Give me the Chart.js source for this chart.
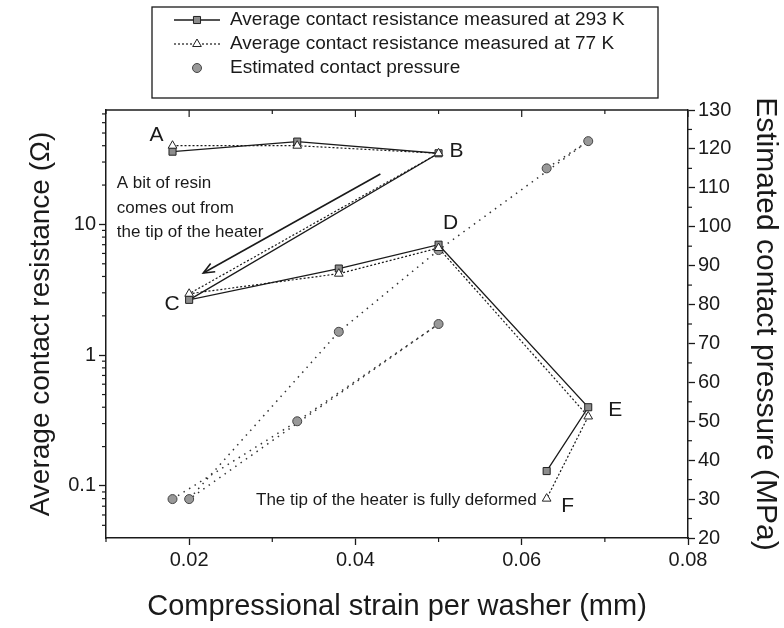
<!DOCTYPE html>
<html><head><meta charset="utf-8">
<script src="https://cdn.jsdelivr.net/npm/chart.js@4"></script>
<style>html,body{margin:0;padding:0;background:#fff;}canvas{display:block;}</style>
</head><body>
<canvas id="c" width="784" height="628"></canvas>
<script>
const strain = [0.018, 0.033, 0.05, 0.02, 0.038, 0.05, 0.068, 0.063];
const res293K = [36, 43, 35, 2.65, 4.6, 7.0, 0.40, 0.13];
const res77K = [40, 40, 35, 2.95, 4.2, 6.6, 0.34, 0.08];
const pressureMPa = [30, 50, 75, 30, 73, 94, 122, 115];
const xTickValues = [0.02, 0.04, 0.06, 0.08];
const xMinorValues = [0.01, 0.03, 0.05, 0.07];
const resTickValues = [0.1, 1, 10];
const resMinorValues = [0.05,0.06,0.07,0.08,0.09,0.2,0.3,0.4,0.5,0.6,0.7,0.8,0.9,2,3,4,5,6,7,8,9,20,30,40,50,60,70];
const pressureTickValues = [20,30,40,50,60,70,80,90,100,110,120,130];
const pressureMinorValues = [25,35,45,55,65,75,85,95,105,115,125];
const legendLabels = ['Average contact resistance measured at 293 K','Average contact resistance measured at 77 K','Estimated contact pressure'];
const pointLabels = [
  {text:'A', series:0, index:0, dx:-16, dy:-16},
  {text:'B', series:1, index:2, dx:18, dy:-2},
  {text:'C', series:0, index:3, dx:-17, dy:4},
  {text:'D', series:0, index:5, dx:12, dy:-21},
  {text:'E', series:0, index:6, dx:27, dy:3},
  {text:'F', series:1, index:7, dx:21, dy:8}
];
const noteResin = ['A bit of resin','comes out from','the tip of the heater'];
const noteDeformed = 'The tip of the heater is fully deformed';

const FONT = '"Liberation Sans", Arial, Helvetica, sans-serif';
const INK = '#1a1a1a';

const annot = {
  id:'annot',
  afterDraw(chart){
    const ctx = chart.ctx;
    const xs = chart.scales.x, ys = chart.scales.y, y2 = chart.scales.y2;
    const ca = chart.chartArea;
    ctx.save();
    ctx.strokeStyle = INK; ctx.fillStyle = INK;
    ctx.lineWidth=1.5;
    ctx.beginPath(); ctx.moveTo(ca.left, ca.top); ctx.lineTo(ca.right, ca.top); ctx.stroke();
    ctx.lineWidth = 1.2;
    xTickValues.forEach(v=>{const px=xs.getPixelForValue(v); ctx.beginPath(); ctx.moveTo(px,ca.top); ctx.lineTo(px,ca.top+7); ctx.stroke();});
    xMinorValues.forEach(v=>{const px=xs.getPixelForValue(v); ctx.beginPath(); ctx.moveTo(px,ca.top); ctx.lineTo(px,ca.top+4); ctx.stroke();
      ctx.beginPath(); ctx.moveTo(px,ca.bottom); ctx.lineTo(px,ca.bottom+4); ctx.stroke();});
    resMinorValues.forEach(v=>{const py=ys.getPixelForValue(v); ctx.beginPath(); ctx.moveTo(ca.left,py); ctx.lineTo(ca.left-4,py); ctx.stroke();});
    pressureMinorValues.forEach(v=>{const py=y2.getPixelForValue(v); ctx.beginPath(); ctx.moveTo(ca.right,py); ctx.lineTo(ca.right+4,py); ctx.stroke();});
    ctx.font = '21px ' + FONT; ctx.textAlign='center'; ctx.textBaseline='middle';
    pointLabels.forEach(l=>{
      const el = chart.getDatasetMeta(l.series).data[l.index];
      ctx.fillText(l.text, el.x + l.dx, el.y + l.dy);
    });
    ctx.font = '17px ' + FONT; ctx.textAlign='left';
    const nx = xs.getPixelForValue(0.0113);
    [20.7, 13.3, 8.7].forEach((v,i)=>{ ctx.fillText(noteResin[i], nx, ys.getPixelForValue(v)); });
    ctx.textAlign='right';
    ctx.fillText(noteDeformed, xs.getPixelForValue(0.0618), ys.getPixelForValue(0.078));
    const ax0 = xs.getPixelForValue(0.043), ay0 = ys.getPixelForValue(24.3);
    const ax1 = xs.getPixelForValue(0.0217), ay1 = ys.getPixelForValue(4.25);
    ctx.lineWidth = 1.6;
    ctx.beginPath(); ctx.moveTo(ax0,ay0); ctx.lineTo(ax1,ay1); ctx.stroke();
    const ang = Math.atan2(ay1-ay0, ax1-ax0);
    ctx.beginPath();
    ctx.moveTo(ax1 - 12*Math.cos(ang-0.4), ay1 - 12*Math.sin(ang-0.4));
    ctx.lineTo(ax1, ay1);
    ctx.lineTo(ax1 - 12*Math.cos(ang+0.4), ay1 - 12*Math.sin(ang+0.4));
    ctx.stroke();
    const bx=152, by=7, bw=506, bh=91;
    ctx.lineWidth=1.3; ctx.strokeRect(bx,by,bw,bh);
    const rows=[20,44,68];
    ctx.font='19px ' + FONT; ctx.textAlign='left'; ctx.textBaseline='middle';
    rows.forEach((ry,i)=>{
      const ds = chart.data.datasets[i];
      if(i<2){
        ctx.save(); ctx.strokeStyle=INK; ctx.lineWidth= i===0?1.3:1.2; ctx.setLineDash(i===0?[]:[2,2]);
        ctx.beginPath(); ctx.moveTo(174,ry); ctx.lineTo(220,ry); ctx.stroke(); ctx.restore();
      }
      ctx.save();
      ctx.fillStyle = ds.pointBackgroundColor; ctx.strokeStyle = ds.pointBorderColor; ctx.lineWidth=1;
      Chart.helpers.drawPoint(ctx, {pointStyle: ds.pointStyle, radius: ds.pointRadius, borderWidth:1}, 197, ry);
      ctx.restore();
      ctx.fillStyle=INK;
      ctx.fillText(legendLabels[i], 230, ry);
    });
    ctx.restore();
  }
};

const tickFont = {family: FONT, size: 20};
new Chart(document.getElementById('c'), {
  type: 'line',
  data: {
    datasets: [
      {label: legendLabels[0], data: strain.map((x,i)=>({x, y: res293K[i]})), yAxisID:'y', order:1,
       borderColor: INK, borderWidth:1.3, pointStyle:'rect', pointRadius:5, pointBackgroundColor:'#8c8c8c', pointBorderColor:'#222', pointBorderWidth:1, tension:0, fill:false},
      {label: legendLabels[1], data: strain.map((x,i)=>({x, y: res77K[i]})), yAxisID:'y', order:0,
       borderColor: INK, borderWidth:1.2, borderDash:[2,2], pointStyle:'triangle', pointRadius:5, pointBackgroundColor:'#ffffff', pointBorderColor:'#222', pointBorderWidth:1, tension:0, fill:false},
      {label: legendLabels[2], data: strain.map((x,i)=>({x, y: pressureMPa[i]})), yAxisID:'y2', order:2,
       borderColor: '#333', borderWidth:1.5, borderDash:[1.5,5], pointStyle:'circle', pointRadius:4.5, pointBackgroundColor:'#999999', pointBorderColor:'#444', pointBorderWidth:1, tension:0, fill:false}
    ]
  },
  options: {
    responsive:false, animation:false, devicePixelRatio:1,
    layout:{padding:{left:24, right:1, top:110, bottom:4}},
    plugins:{legend:{display:false}, tooltip:{enabled:false}},
    scales:{
      x:{type:'linear', position:'bottom', min:0.01, max:0.08,
        afterBuildTicks: s => { s.ticks = xTickValues.map(v=>({value:v})); },
        afterFit: s => { s.height = 86; },
        ticks:{font:tickFont, color:INK, padding:3, maxRotation:0, callback: v => Number(v).toFixed(2)},
        grid:{display:true, drawOnChartArea:false, drawTicks:true, tickLength:7, tickColor:INK, tickWidth:1.3},
        border:{display:true, color:INK, width:1.5},
        title:{display:true, text:'Compressional strain per washer (mm)', font:{family:FONT, size:29}, color:INK, padding:{top:0,bottom:0}}
      },
      y:{type:'logarithmic', position:'left', min:0.04, max:75,
        afterBuildTicks: s => { s.ticks = resTickValues.map(v=>({value:v})); },
        afterFit: s => { s.width = 82; },
        ticks:{font:tickFont, color:INK, padding:3, callback: v => String(v)},
        grid:{display:true, drawOnChartArea:false, drawTicks:true, tickLength:7, tickColor:INK, tickWidth:1.3},
        border:{display:true, color:INK, width:1.5},
        title:{display:true, text:'Average contact resistance (Ω)', font:{family:FONT, size:28}, color:INK, padding:{top:0,bottom:0}}
      },
      y2:{type:'linear', position:'right', min:20, max:130,
        afterBuildTicks: s => { s.ticks = pressureTickValues.map(v=>({value:v})); },
        afterFit: s => { s.width = 95; },
        ticks:{font:tickFont, color:INK, padding:3, callback: v => String(v)},
        grid:{display:true, drawOnChartArea:false, drawTicks:true, tickLength:7, tickColor:INK, tickWidth:1.3},
        border:{display:true, color:INK, width:1.5},
        title:{display:true, text:'Estimated contact pressure (MPa)', font:{family:FONT, size:30}, color:INK, padding:{top:0,bottom:0}}
      }
    }
  },
  plugins:[annot]
});
</script>
</body></html>
